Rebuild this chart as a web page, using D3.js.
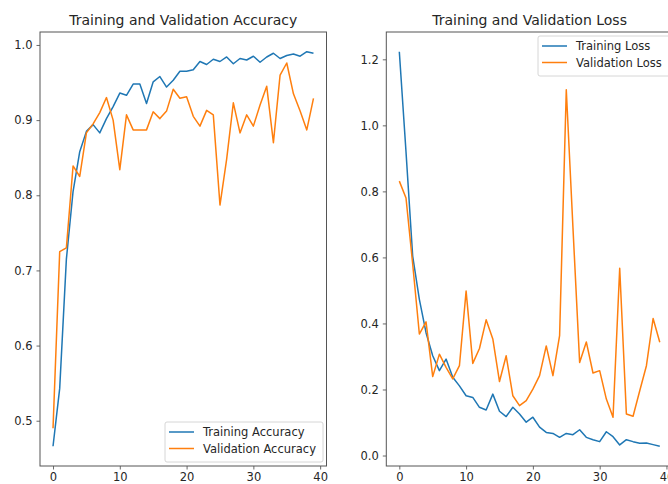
<!DOCTYPE html>
<html>
<head>
<meta charset="utf-8">
<script src="https://cdn.jsdelivr.net/npm/d3@7"></script>
<style>
  html, body { margin: 0; padding: 0; background: #fff; }
  svg { display: block; font-family: "DejaVu Sans", sans-serif; }
</style>
</head>
<body>
<svg id="chart" width="668" height="484"></svg>
<script>
const epochs = d3.range(40);

const trainAcc = [0.466, 0.543, 0.715, 0.805, 0.858, 0.885, 0.894, 0.883, 0.902, 0.918,
  0.936, 0.933, 0.948, 0.948, 0.922, 0.951, 0.958, 0.944, 0.953, 0.965,
  0.965, 0.967, 0.978, 0.974, 0.981, 0.978, 0.984, 0.975, 0.982, 0.980,
  0.985, 0.977, 0.984, 0.989, 0.982, 0.986, 0.988, 0.985, 0.991, 0.989];

const valAcc = [0.490, 0.725, 0.730, 0.839, 0.825, 0.883, 0.895, 0.910, 0.930, 0.900,
  0.834, 0.907, 0.887, 0.887, 0.887, 0.911, 0.902, 0.912, 0.941, 0.929,
  0.931, 0.905, 0.892, 0.913, 0.907, 0.787, 0.848, 0.923, 0.883, 0.907,
  0.892, 0.920, 0.945, 0.870, 0.960, 0.976, 0.935, 0.912, 0.887, 0.929];

const trainLoss = [1.223, 0.920, 0.604, 0.473, 0.372, 0.302, 0.257, 0.292, 0.237, 0.211,
  0.181, 0.176, 0.146, 0.138, 0.186, 0.134, 0.118, 0.146, 0.126, 0.101,
  0.116, 0.086, 0.070, 0.067, 0.055, 0.067, 0.063, 0.078, 0.055, 0.048,
  0.042, 0.072, 0.057, 0.032, 0.048, 0.042, 0.037, 0.038, 0.033, 0.028];

const valLoss = [0.831, 0.780, 0.580, 0.368, 0.405, 0.239, 0.307, 0.267, 0.232, 0.272,
  0.498, 0.279, 0.324, 0.411, 0.353, 0.224, 0.302, 0.181, 0.151, 0.166,
  0.201, 0.242, 0.332, 0.242, 0.363, 1.108, 0.690, 0.282, 0.344, 0.250,
  0.257, 0.171, 0.116, 0.567, 0.126, 0.119, 0.196, 0.272, 0.415, 0.343];

const xTicks = [0, 10, 20, 30, 40];
const accTicks = [0.5, 0.6, 0.7, 0.8, 0.9, 1.0];
const lossTicks = [0.0, 0.2, 0.4, 0.6, 0.8, 1.0, 1.2];

const BLUE = '#1f77b4', ORANGE = '#ff7f0e';
const svg = d3.select('#chart');

// matplotlib-style 5% margins around the data
function padded(values) {
  const [lo, hi] = d3.extent(values);
  const m = (hi - lo) * 0.05;
  return [lo - m, hi + m];
}

function drawPanel(p) {
  const g = svg.append('g');
  const x = d3.scaleLinear().domain(padded(epochs)).range([p.left, p.right]);
  const y = d3.scaleLinear().domain(padded(p.series[0].values.concat(p.series[1].values)))
    .range([p.bottom, p.top]);

  const axisStyle = sel => {
    sel.select('.domain').remove();
    sel.selectAll('line').attr('stroke', '#444').attr('stroke-width', 0.8);
    sel.selectAll('text').attr('fill', '#262626').style('font-size', '11.5px')
      .style('font-family', '"DejaVu Sans", sans-serif');
  };

  g.append('g').attr('transform', `translate(0,${p.bottom})`)
    .call(d3.axisBottom(x).tickValues(xTicks).tickSize(3.5).tickPadding(3).tickFormat(d3.format('d')))
    .call(axisStyle);
  g.append('g').attr('transform', `translate(${p.left},0)`)
    .call(d3.axisLeft(y).tickValues(p.yTicks).tickSize(3.5).tickPadding(4).tickFormat(d3.format('.1f')))
    .call(axisStyle);

  const line = d3.line().x((d, i) => x(i)).y(d => y(d));
  p.series.forEach(s => {
    g.append('path').datum(s.values)
      .attr('fill', 'none').attr('stroke', s.color)
      .attr('stroke-width', 1.5).attr('stroke-linejoin', 'round')
      .attr('d', line);
  });

  // frame
  g.append('rect').attr('x', p.left).attr('y', p.top)
    .attr('width', p.right - p.left).attr('height', p.bottom - p.top)
    .attr('fill', 'none').attr('stroke', '#555').attr('stroke-width', 1);

  g.append('text').attr('x', (p.left + p.right) / 2).attr('y', 25)
    .attr('text-anchor', 'middle').attr('fill', '#262626').style('font-size', '14px')
    .text(p.title);

  // legend
  const lg = g.append('g').attr('transform', `translate(${p.legend.x},${p.legend.y})`);
  lg.append('rect').attr('width', p.legend.w).attr('height', 40).attr('rx', 2)
    .attr('fill', '#fff').attr('fill-opacity', 0.8).attr('stroke', '#ccc').attr('stroke-width', 0.8);
  p.series.forEach((s, i) => {
    const yy = 10 + i * 16.5;
    lg.append('line').attr('x1', 4).attr('x2', 29).attr('y1', yy).attr('y2', yy)
      .attr('stroke', s.color).attr('stroke-width', 1.5);
    lg.append('text').attr('x', 38).attr('y', yy + 4).attr('fill', '#262626')
      .style('font-size', '11.5px').text(s.name);
  });
}

drawPanel({
  title: 'Training and Validation Accuracy',
  left: 40, right: 326.5, top: 32, bottom: 466,
  yTicks: accTicks,
  series: [
    { name: 'Training Accuracy', values: trainAcc, color: BLUE },
    { name: 'Validation Accuracy', values: valAcc, color: ORANGE },
  ],
  legend: { x: 165, y: 422, w: 158 },
});

drawPanel({
  title: 'Training and Validation Loss',
  left: 386.3, right: 672.8, top: 32, bottom: 466,
  yTicks: lossTicks,
  series: [
    { name: 'Training Loss', values: trainLoss, color: BLUE },
    { name: 'Validation Loss', values: valLoss, color: ORANGE },
  ],
  legend: { x: 538, y: 36, w: 134 },
});
</script>
</body>
</html>
